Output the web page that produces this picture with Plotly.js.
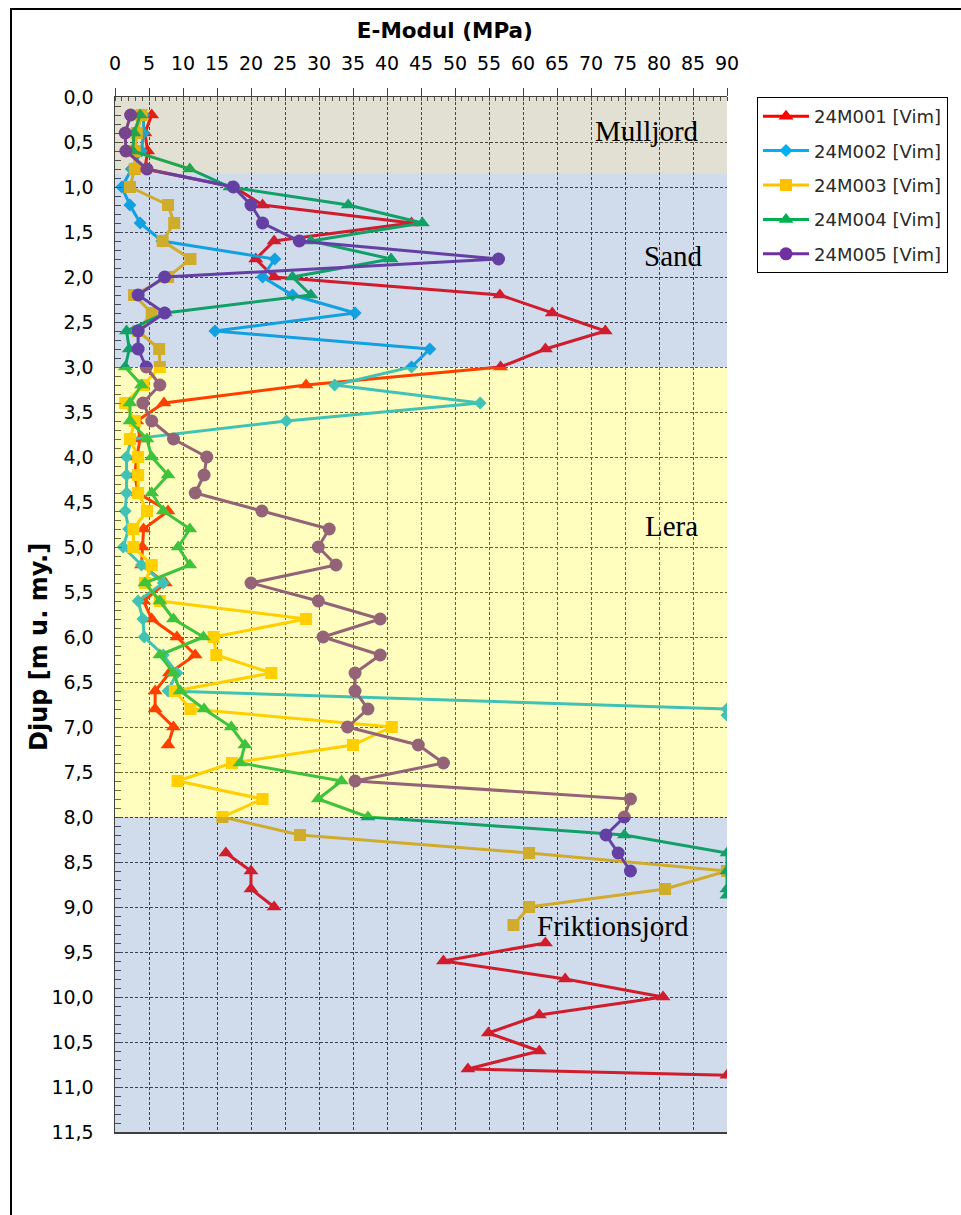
<!DOCTYPE html>
<html>
<head>
<meta charset="utf-8">
<script src="https://cdn.plot.ly/plotly-3.0.1.min.js"></script>
<style>html,body{margin:0;padding:0;background:#fff;}#chart{width:961px;height:1215px;}</style>
</head>
<body>
<div id="chart"></div>
<script>
// ---------- DATA ----------
const seriesNames = ['24M001 [Vim]', '24M002 [Vim]', '24M003 [Vim]', '24M004 [Vim]', '24M005 [Vim]'];

const depth001 = [0.2,0.4,0.6,0.8,1.0,1.2,1.4,1.6,1.8,2.0,2.2,2.4,2.6,2.8,3.0,3.2,3.4,3.6,3.8,4.0,4.2,4.4,4.6,4.8,5.0,5.2,5.4,5.6,5.8,6.0,6.2,6.4,6.6,6.8,7.0,7.2,7.4,8.4,8.6,8.8,9.0,9.2,9.4,9.6,9.8,10.0,10.2,10.4,10.6,10.8,10.87];
const emod001 = [5.4,4.4,4.8,4.4,17.5,21.7,43.6,23.4,20.7,23.4,56.6,64.3,72.1,63.3,56.7,28.1,7.2,3.2,3.7,3.2,2.9,3.4,7.8,4.2,4.0,3.9,7.4,4.2,5.4,9.1,11.8,8.0,5.9,5.9,8.6,7.8,null,16.3,20.0,20.0,23.4,null,63.3,48.3,66.2,80.6,62.4,54.9,62.4,51.9,90];

const depth002 = [0.2,0.4,0.6,0.8,1.0,1.2,1.4,1.6,1.8,2.0,2.2,2.4,2.6,2.8,3.0,3.2,3.4,3.6,3.8,4.0,4.2,4.4,4.6,4.8,5.0,5.2,5.4,5.6,5.8,6.0,6.2,6.4,6.6,6.8,6.87];
const emod002 = [4.2,4.2,3.9,2.4,1.0,2.2,3.7,6.9,23.5,21.7,26.1,35.3,14.7,46.3,43.6,32.3,53.7,25.2,2.4,1.7,1.7,1.7,1.5,2.0,1.2,3.9,7.1,3.4,4.1,4.3,7.1,9.1,7.8,90,90];

const depth003 = [0.2,0.4,0.6,0.8,1.0,1.2,1.4,1.6,1.8,2.0,2.2,2.4,2.6,2.8,3.0,3.2,3.4,3.6,3.8,4.0,4.2,4.4,4.6,4.8,5.0,5.2,5.4,5.6,5.8,6.0,6.2,6.4,6.6,6.8,7.0,7.2,7.4,7.6,7.8,8.0,8.2,8.4,8.6,8.8,9.0,9.2];
const emod003 = [3.9,3.2,2.9,2.9,2.2,7.8,8.7,7.0,11.1,7.8,2.8,5.4,3.4,6.5,6.6,4.2,1.5,2.9,2.2,3.4,3.4,3.4,4.7,2.7,2.7,5.4,4.4,6.6,28.1,14.5,14.9,23.0,8.8,11.1,40.7,35.0,17.2,9.2,21.7,15.8,27.2,60.9,90,80.9,60.9,58.6];

const depth004 = [0.2,0.4,0.6,0.8,1.0,1.2,1.4,1.6,1.8,2.0,2.2,2.4,2.6,2.8,3.0,3.2,3.4,3.6,3.8,4.0,4.2,4.4,4.6,4.8,5.0,5.2,5.4,5.6,5.8,6.0,6.2,6.4,6.6,6.8,7.0,7.2,7.4,7.6,7.8,8.0,8.2,8.4,8.6,8.8,8.87];
const emod004 = [3.7,2.8,2.6,11.0,16.9,34.3,45.2,28.8,40.6,26.1,28.8,7.4,1.7,2.1,1.5,3.9,2.2,2.2,4.7,5.4,7.8,5.4,7.1,11.0,9.3,11.0,4.4,6.6,8.6,13.0,6.6,8.6,9.6,13.1,17.1,19.1,18.4,33.3,29.9,37.2,74.9,90,90,90,90];

const depth005 = [0.2,0.4,0.6,0.8,1.0,1.2,1.4,1.6,1.8,2.0,2.2,2.4,2.6,2.8,3.0,3.2,3.4,3.6,3.8,4.0,4.2,4.4,4.6,4.8,5.0,5.2,5.4,5.6,5.8,6.0,6.2,6.4,6.6,6.8,7.0,7.2,7.4,7.6,7.8,8.0,8.2,8.4,8.6];
const emod005 = [2.3,1.5,1.6,4.7,17.4,20.0,21.7,27.1,56.4,7.3,3.4,7.3,3.4,3.4,4.6,6.6,4.1,5.4,8.6,13.5,13.1,11.8,21.6,31.5,29.9,32.5,20.0,29.9,39.0,30.6,39.0,35.3,35.3,37.2,34.2,44.6,48.3,35.3,75.8,74.9,72.2,74.0,75.8];

// Soil layers (depth intervals, m)
const layerNames = ['Mulljord', 'Sand', 'Lera', 'Friktionsjord'];
const layerTop = [0.0, 0.85, 3.0, 8.0];
const layerBottom = [0.85, 3.0, 8.0, 11.5];

const xTitle = 'E-Modul (MPa)';
const yTitle = 'Djup [m u. my.]';

// ---------- STYLE ----------
const lineColors = ['#ff0000', '#00b0f0', '#ffc000', '#00b050', '#7030a0'];
const symbols = ['triangle-up', 'diamond', 'square', 'triangle-up', 'circle'];
const markerSizes = [13, 10, 12, 13, 13];
const layerFill = ['rgba(139,131,75,0.25)', 'rgba(67,111,175,0.25)', 'rgba(255,250,0,0.25)', 'rgba(67,111,175,0.25)'];
const layerLabelPos = [[78.2, 0.38], [82.1, 1.77], [81.8, 4.77], [73.2, 9.21]];

const depths = [depth001, depth002, depth003, depth004, depth005];
const emods = [emod001, emod002, emod003, emod004, emod005];

const traces = seriesNames.map((name, i) => ({
  type: 'scatter',
  mode: 'lines+markers',
  name: name,
  legendgroup: 'g' + i,
  x: emods[i],
  y: depths[i],
  connectgaps: false,
  line: {color: lineColors[i], width: 3},
  marker: {color: lineColors[i], symbol: symbols[i], size: markerSizes[i]},
  cliponaxis: true
}));

const shapes = layerNames.map((n, i) => ({
  type: 'rect', xref: 'x', yref: 'y', layer: 'above',
  x0: 0, x1: 90, y0: layerTop[i], y1: layerBottom[i],
  fillcolor: layerFill[i], line: {width: 0}
}));
// outer frame
shapes.push({
  type: 'rect', xref: 'paper', yref: 'paper', layer: 'above',
  x0: (11 - 115) / 612, x1: (966 - 115) / 612,
  y0: (1132 - 1222) / 1035, y1: (1132 - 9) / 1035,
  line: {color: '#000', width: 2}, fillcolor: 'rgba(0,0,0,0)'
});

const annotations = layerNames.map((n, i) => ({
  text: n, xref: 'x', yref: 'y', x: layerLabelPos[i][0], y: layerLabelPos[i][1],
  showarrow: false, xanchor: 'center', yanchor: 'middle',
  font: {family: 'Liberation Serif, Times New Roman, serif', size: 29, color: '#000'}
}));
// y-axis title
annotations.push({
  text: '<b>' + yTitle + '</b>', xref: 'paper', yref: 'paper',
  x: (39 - 115) / 612, y: (1132 - 647) / 1035, textangle: -90,
  showarrow: false, xanchor: 'center', yanchor: 'middle',
  font: {family: 'DejaVu Sans, Verdana, sans-serif', size: 24, color: '#000'}
});

const gridStyle = {showgrid: true, gridcolor: '#333333', gridwidth: 1, griddash: '3px,2px'};

const layout = {
  width: 961, height: 1215,
  margin: {l: 115, r: 234, t: 97, b: 83},
  paper_bgcolor: '#ffffff', plot_bgcolor: '#ffffff',
  separators: ', ',
  font: {family: 'DejaVu Sans, Verdana, sans-serif', color: '#000'},
  title: {
    text: '<b>' + xTitle + '</b>', font: {size: 21.5, color: '#000'},
    xref: 'paper', x: 0.539, xanchor: 'center',
    yref: 'container', y: 1 - 30 / 1215, yanchor: 'middle'
  },
  xaxis: Object.assign({
    side: 'top', range: [0, 90], tick0: 0, dtick: 5,
    ticks: 'outside', ticklen: 8, tickwidth: 1, tickcolor: '#404040',
    showline: true, linecolor: '#404040', linewidth: 1.5, mirror: true,
    zeroline: false, tickfont: {size: 19, color: '#000'}, ticklabelstandoff: 10,
    minor: {ticks: 'inside', dtick: 1, tick0: 0, ticklen: 4, tickcolor: '#404040', showgrid: false}
  }, gridStyle),
  yaxis: Object.assign({
    range: [11.5, 0], tick0: 0, dtick: 0.5, tickformat: '.1f',
    ticks: 'inside', ticklen: 7, tickwidth: 1, tickcolor: '#404040',
    showline: true, linecolor: '#404040', linewidth: 1.5,
    zeroline: false, tickfont: {size: 19, color: '#000'}, ticklabelstandoff: 16,
    minor: {ticks: 'inside', dtick: 0.1, tick0: 0, ticklen: 6, tickcolor: '#404040', showgrid: false}
  }, gridStyle),
  legend: {
    x: (757 - 115) / 612, xanchor: 'left', y: 1, yanchor: 'top',
    bgcolor: '#ffffff', bordercolor: '#000', borderwidth: 1,
    font: {size: 18, color: '#2a2a2a'}, traceorder: 'grouped', tracegroupgap: 8,
    itemwidth: 46
  },
  shapes: shapes,
  annotations: annotations,
  showlegend: true
};

Plotly.newPlot('chart', traces, layout, {displayModeBar: false, staticPlot: true});
</script>
</body>
</html>
